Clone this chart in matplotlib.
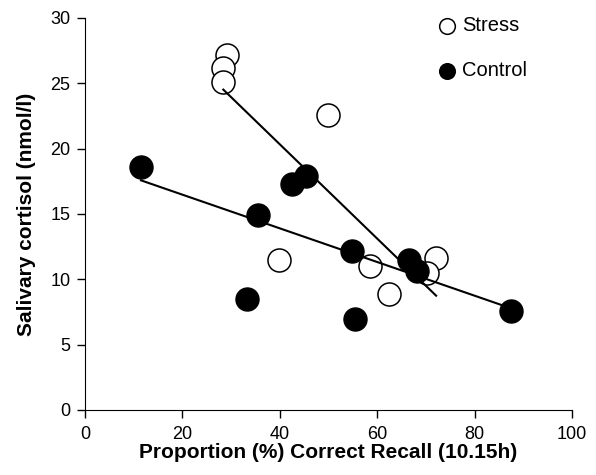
import numpy as np
import matplotlib.pyplot as plt

plt.rcParams['font.family'] = ['Liberation Sans', 'DejaVu Sans']

# Stress group (open circles)
stress_x = [29.1, 28.4, 28.4, 49.8, 39.8, 58.5, 62.4, 72.1, 70.2]
stress_y = [27.2, 26.2, 25.1, 22.6, 11.5, 11.0, 8.9, 11.6, 10.5]

# Control group (filled circles)
control_x = [11.5, 45.3, 42.6, 35.5, 33.2, 54.8, 55.4, 66.5, 68.1, 87.4]
control_y = [18.6, 17.9, 17.3, 14.9, 8.5, 12.2, 7.0, 11.5, 10.6, 7.6]

fig = plt.figure(figsize=(5.96, 4.75), dpi=100)
ax = fig.add_axes([85/596, 65/475, 487/596, 392/475])

# regression lines over each group's range
for xs, ys in [(stress_x, stress_y), (control_x, control_y)]:
    k, b = np.polyfit(xs, ys, 1)
    xl = np.array([min(xs), max(xs)])
    ax.plot(xl, k*xl + b, color='black', linewidth=1.5, zorder=2)

ax.scatter(stress_x, stress_y, s=275, facecolors='white', edgecolors='black',
           linewidths=1.1, label='Stress', zorder=1)
ax.scatter(control_x, control_y, s=275, color='black', label='Control', zorder=3)

ax.set_xlim(0, 100)
ax.set_ylim(0, 30)
ax.set_xticks(np.arange(0, 101, 20))
ax.set_yticks(np.arange(0, 31, 5))
ax.spines['top'].set_visible(False)
ax.spines['right'].set_visible(False)
ax.tick_params(direction='out', length=5.5, width=1, labelsize=13)
ax.tick_params(axis='x', pad=6)
ax.tick_params(axis='y', pad=5)

ax.set_xlabel('Proportion (%) Correct Recall (10.15h)', fontsize=15,
              fontweight='bold', labelpad=0)
ax.set_ylabel('Salivary cortisol (nmol/l)', fontsize=15, fontweight='bold',
              labelpad=10)

ax.legend(loc='upper left', bbox_to_anchor=(437/596, 1 - 16/475),
          bbox_transform=fig.transFigure, frameon=False, fontsize=14.5,
          markerscale=0.68, handlelength=1.0, handletextpad=0.25,
          labelspacing=1.3, borderaxespad=0, borderpad=0)

fig.savefig('out.png', dpi=100)
